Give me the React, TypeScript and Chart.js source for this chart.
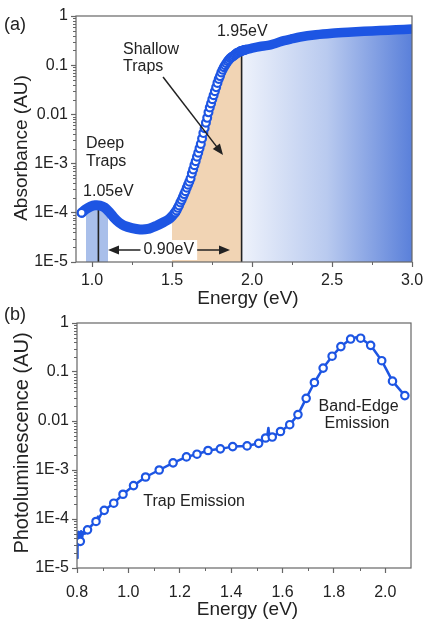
import React, { useEffect, useRef } from 'react';
import { Chart, registerables } from 'chart.js';

Chart.register(...registerables);

const FONT = '"Liberation Sans", Arial, Helvetica, sans-serif';
const INK = '#222222';
const FRAME = '#666666';
const BLUE = '#1d55e3';
const Y_MIN = 1e-5;
const Y_MAX = 1;

// ---------- Panel (a): absorbance ----------
const absLowEnergy = [0.935, 0.96, 0.99, 1.02, 1.05, 1.08, 1.11, 1.14, 1.17, 1.2, 1.25, 1.3, 1.35, 1.4, 1.45, 1.48, 1.5, 1.52];
const absLowValue = [1.0e-4, 1.17e-4, 1.33e-4, 1.42e-4, 1.4e-4, 1.27e-4, 1.02e-4, 7.8e-5, 6.3e-5, 5.5e-5, 4.9e-5, 4.6e-5, 4.7e-5, 5.4e-5, 6.5e-5, 7.4e-5, 8.5e-5, 1.02e-4];

const absEdgeEnergy = [1.52, 1.528, 1.536, 1.544, 1.552, 1.56, 1.568, 1.576, 1.584, 1.592, 1.6, 1.608, 1.616, 1.624, 1.632, 1.64, 1.648, 1.656, 1.664, 1.672, 1.68, 1.688, 1.696, 1.704, 1.712, 1.72, 1.728, 1.736, 1.744, 1.752, 1.76, 1.768, 1.776, 1.784, 1.792, 1.8, 1.808, 1.816, 1.824, 1.832, 1.84, 1.848, 1.856, 1.864, 1.872, 1.88, 1.888, 1.896, 1.904, 1.912, 1.92, 1.928, 1.936, 1.944, 1.952, 1.96];
const absEdgeValue = [1.02e-4, 1.12e-4, 1.26e-4, 1.41e-4, 1.62e-4, 1.82e-4, 2.09e-4, 2.4e-4, 2.75e-4, 3.24e-4, 3.72e-4, 4.27e-4, 5.0e-4, 6.3e-4, 7.6e-4, 9.3e-4, 1.12e-3, 1.38e-3, 1.66e-3, 2.04e-3, 2.51e-3, 3.24e-3, 4.17e-3, 5.25e-3, 6.76e-3, 8.5e-3, 1.1e-2, 1.38e-2, 1.66e-2, 2.04e-2, 2.45e-2, 2.95e-2, 3.55e-2, 4.37e-2, 5.25e-2, 6.0e-2, 7.1e-2, 8.1e-2, 9.1e-2, 0.1, 0.11, 0.12, 0.129, 0.138, 0.145, 0.151, 0.158, 0.166, 0.174, 0.18, 0.186, 0.191, 0.195, 0.2, 0.204, 0.206];

const absHighEnergy = [1.93, 1.96, 2.0, 2.05, 2.1, 2.15, 2.2, 2.25, 2.3, 2.4, 2.5, 2.6, 2.7, 2.8, 2.9, 3.0];
const absHighValue = [0.195, 0.206, 0.222, 0.24, 0.252, 0.28, 0.315, 0.345, 0.375, 0.415, 0.445, 0.468, 0.488, 0.506, 0.524, 0.543];

const deepBandEnergy = [0.9625, 0.99, 1.02, 1.05, 1.08, 1.1];
const deepBandTop = [1.15e-4, 1.3e-4, 1.38e-4, 1.36e-4, 1.25e-4, 1.1e-4];
const deepLevelEnergy = 1.04;
const deepLevelTop = 1.42e-4;
const edgeLevelEnergy = 1.935;
const edgeLevelTop = 0.197;
const shallowStartEnergy = 1.5;

const topXMajor = [1.0, 1.5, 2.0, 2.5, 3.0];
const topXLabels = ['1.0', '1.5', '2.0', '2.5', '3.0'];
const topXMinor = [1.25, 1.75, 2.25, 2.75];

// ---------- Panel (b): photoluminescence ----------
const plTraceEnergy = [0.8, 0.801, 0.803, 0.805, 0.807, 0.809, 0.811, 0.813, 0.816, 0.82, 0.824, 0.83, 0.841, 0.855, 0.866, 0.874, 0.882, 0.886, 0.894, 0.906, 0.943, 0.979, 1.02, 1.067, 1.12, 1.174, 1.226, 1.267, 1.31, 1.358, 1.406, 1.462, 1.507, 1.522, 1.534, 1.54, 1.545, 1.549, 1.56, 1.592, 1.628, 1.66, 1.692, 1.724, 1.758, 1.793, 1.827, 1.865, 1.885, 1.904, 1.943, 1.986, 2.028, 2.076];
const plTraceValue = [1.6e-5, 4.2e-5, 2.6e-5, 5.4e-5, 3.0e-5, 5.0e-5, 3.4e-5, 3.5e-5, 5.6e-5, 4.2e-5, 5.4e-5, 5.0e-5, 6.0e-5, 7.2e-5, 8.2e-5, 8.9e-5, 1.12e-4, 1.05e-4, 1.25e-4, 1.5e-4, 2.1e-4, 3.2e-4, 4.8e-4, 7.2e-4, 1.0e-3, 1.4e-3, 1.85e-3, 2.1e-3, 2.5e-3, 2.7e-3, 3.0e-3, 3.1e-3, 3.5e-3, 3.9e-3, 4.5e-3, 4.8e-3, 7.2e-3, 4.8e-3, 4.7e-3, 6.1e-3, 8.4e-3, 1.35e-2, 2.9e-2, 6.1e-2, 0.12, 0.21, 0.33, 0.47, 0.51, 0.49, 0.35, 0.17, 0.065, 0.033];

const plMarkerEnergy = [0.813, 0.841, 0.874, 0.906, 0.943, 0.979, 1.02, 1.067, 1.12, 1.174, 1.226, 1.267, 1.31, 1.358, 1.406, 1.462, 1.507, 1.534, 1.56, 1.592, 1.628, 1.66, 1.692, 1.724, 1.758, 1.793, 1.827, 1.865, 1.904, 1.943, 1.986, 2.028, 2.076];
const plMarkerValue = [3.5e-5, 6.0e-5, 8.9e-5, 1.5e-4, 2.1e-4, 3.2e-4, 4.8e-4, 7.2e-4, 1.0e-3, 1.4e-3, 1.85e-3, 2.1e-3, 2.5e-3, 2.7e-3, 3.0e-3, 3.1e-3, 3.5e-3, 4.5e-3, 4.7e-3, 6.1e-3, 8.4e-3, 1.35e-2, 2.9e-2, 6.1e-2, 0.12, 0.21, 0.33, 0.47, 0.49, 0.35, 0.17, 0.065, 0.033];

const bottomXMajor = [0.8, 1.0, 1.2, 1.4, 1.6, 1.8, 2.0];
const bottomXLabels = ['0.8', '1.0', '1.2', '1.4', '1.6', '1.8', '2.0'];
const bottomXMinor = [0.9, 1.1, 1.3, 1.5, 1.7, 1.9];

// ---------- shared y axis ----------
const yMajor = [1e-5, 1e-4, 1e-3, 0.01, 0.1, 1];
const yLabels = ['1E-5', '1E-4', '1E-3', '0.01', '0.1', '1'];
const yMinor: number[] = [];
for (const d of [1e-5, 1e-4, 1e-3, 1e-2, 1e-1]) for (const m of [2, 3, 4, 5, 6, 7, 8, 9]) yMinor.push(m * d);

type Pt = { x: number; y: number };
const mk = (xs: number[], ys: number[]): Pt[] => xs.map((x, i) => ({ x, y: ys[i] }));

type Txt = { text: string; x: number; y: number; align?: CanvasTextAlign; bg?: boolean };
type Arrow = { x1: number; y1: number; x2: number; y2: number; head1?: boolean; head2?: boolean };
type Title = { text: string; cx: number; cy: number; size: number; rot?: boolean };

function arrowHead(ctx: CanvasRenderingContext2D, fx: number, fy: number, tx: number, ty: number, len = 11, half = 4.5) {
  const dx = tx - fx, dy = ty - fy;
  const L = Math.hypot(dx, dy) || 1;
  const ux = dx / L, uy = dy / L;
  const bx = tx - ux * len, by = ty - uy * len;
  ctx.beginPath();
  ctx.moveTo(tx, ty);
  ctx.lineTo(bx - uy * half, by + ux * half);
  ctx.lineTo(bx + uy * half, by - ux * half);
  ctx.closePath();
  ctx.fill();
}

function decorPlugin(cfg: { texts: Txt[]; arrows: Arrow[]; titles: Title[]; panel: { text: string; x: number; y: number }; xMinor: number[] }) {
  return {
    id: 'decor',
    afterDatasetsDraw(chart: any) {
      const { ctx, scales } = chart;
      const xs = scales.x, ys = scales.y;
      ctx.save();
      ctx.strokeStyle = INK;
      ctx.fillStyle = INK;
      ctx.lineWidth = 1.5;
      for (const a of cfg.arrows) {
        const x1 = xs.getPixelForValue(a.x1), y1 = ys.getPixelForValue(a.y1);
        const x2 = xs.getPixelForValue(a.x2), y2 = ys.getPixelForValue(a.y2);
        const L = Math.hypot(x2 - x1, y2 - y1);
        const ux = (x2 - x1) / L, uy = (y2 - y1) / L;
        const sx = a.head1 ? x1 + ux * 8 : x1, sy = a.head1 ? y1 + uy * 8 : y1;
        const ex = a.head2 ? x2 - ux * 8 : x2, ey = a.head2 ? y2 - uy * 8 : y2;
        ctx.beginPath();
        ctx.moveTo(sx, sy);
        ctx.lineTo(ex, ey);
        ctx.stroke();
        if (a.head2) arrowHead(ctx, x1, y1, x2, y2);
        if (a.head1) arrowHead(ctx, x2, y2, x1, y1);
      }
      ctx.font = `16px ${FONT}`;
      ctx.textBaseline = 'middle';
      for (const t of cfg.texts) {
        const px = xs.getPixelForValue(t.x), py = ys.getPixelForValue(t.y);
        const w = ctx.measureText(t.text).width;
        const align = t.align || 'left';
        const left = align === 'center' ? px - w / 2 : align === 'right' ? px - w : px;
        if (t.bg) {
          ctx.fillStyle = '#ffffff';
          ctx.fillRect(left - 3, py - 10, w + 6, 20);
        }
        ctx.fillStyle = INK;
        ctx.textAlign = 'left';
        ctx.fillText(t.text, left, py);
      }
      ctx.restore();
    },
    afterDraw(chart: any) {
      const { ctx, chartArea: a, scales } = chart;
      const xs = scales.x, ys = scales.y;
      ctx.save();
      ctx.strokeStyle = FRAME;
      ctx.lineWidth = 1.2;
      ctx.strokeRect(a.left, a.top, a.right - a.left, a.bottom - a.top);
      ctx.beginPath();
      for (const v of yMinor) {
        const py = Math.round(ys.getPixelForValue(v)) + 0.5;
        ctx.moveTo(a.left - 3, py);
        ctx.lineTo(a.left, py);
      }
      for (const v of cfg.xMinor) {
        const px = Math.round(xs.getPixelForValue(v)) + 0.5;
        ctx.moveTo(px, a.bottom);
        ctx.lineTo(px, a.bottom + 3);
      }
      ctx.lineWidth = 1;
      ctx.stroke();
      ctx.fillStyle = INK;
      ctx.textAlign = 'center';
      ctx.textBaseline = 'middle';
      for (const t of cfg.titles) {
        ctx.font = `${t.size}px ${FONT}`;
        if (t.rot) {
          ctx.save();
          ctx.translate(t.cx, t.cy);
          ctx.rotate(-Math.PI / 2);
          ctx.fillText(t.text, 0, 0);
          ctx.restore();
        } else {
          ctx.fillText(t.text, t.cx, t.cy);
        }
      }
      ctx.font = `18px ${FONT}`;
      ctx.textAlign = 'left';
      ctx.fillText(cfg.panel.text, cfg.panel.x, cfg.panel.y);
      ctx.restore();
    },
  };
}

function xAxis(min: number, max: number, major: number[], labels: string[], height: number, pad: number) {
  return {
    type: 'linear',
    min,
    max,
    afterBuildTicks: (s: any) => {
      s.ticks = major.map((value) => ({ value }));
    },
    afterFit: (s: any) => {
      s.height = height;
      s.paddingLeft = 0;
      s.paddingRight = 0;
    },
    ticks: {
      autoSkip: false,
      maxRotation: 0,
      minRotation: 0,
      padding: pad,
      color: INK,
      font: { family: FONT, size: 16 },
      callback: (_v: any, i: number) => labels[i],
    },
    grid: { display: true, drawOnChartArea: false, drawTicks: true, tickLength: 5, tickColor: FRAME, tickWidth: 1.2, color: FRAME },
    border: { display: false },
  };
}

function yAxis(width: number) {
  return {
    type: 'logarithmic',
    min: Y_MIN,
    max: Y_MAX,
    afterBuildTicks: (s: any) => {
      s.ticks = yMajor.map((value) => ({ value, major: true }));
    },
    afterFit: (s: any) => {
      s.width = width;
      s.paddingTop = 0;
      s.paddingBottom = 0;
    },
    ticks: {
      autoSkip: false,
      padding: 3,
      color: INK,
      font: { family: FONT, size: 16 },
      callback: (_v: any, i: number) => yLabels[i],
    },
    grid: { display: true, drawOnChartArea: false, drawTicks: true, tickLength: 5, tickColor: FRAME, tickWidth: 1.2, color: FRAME },
    border: { display: false },
  };
}

function topConfig(): any {
  const low = mk(absLowEnergy, absLowValue);
  const edge = mk(absEdgeEnergy, absEdgeValue);
  const high = mk(absHighEnergy, absHighValue);
  const tanFill = [...low.filter((p) => p.x >= shallowStartEnergy), ...edge.filter((p) => p.x <= edgeLevelEnergy + 0.002)];
  const blueFill = high.filter((p) => p.x >= edgeLevelEnergy - 0.006);
  const deepFill = mk(deepBandEnergy, deepBandTop);

  const gradient = (c: any) => {
    const ch = c.chart;
    const a = ch.chartArea;
    const xs = ch.scales && ch.scales.x;
    if (!a || !xs) return '#b4c6ee';
    const x0 = xs.getPixelForValue(edgeLevelEnergy);
    const g = ch.ctx.createLinearGradient(x0, 0, a.right, 0);
    g.addColorStop(0, '#eef2fb');
    g.addColorStop(0.5, '#b9caef');
    g.addColorStop(1, '#5a80da');
    return g;
  };

  const fillBase = { type: 'line', showLine: true, fill: 'start', borderWidth: 0, borderColor: 'rgba(0,0,0,0)', pointRadius: 0, tension: 0 };
  const vline = { type: 'line', showLine: true, fill: false, borderWidth: 1.6, borderColor: INK, pointRadius: 0, order: 5 };

  return {
    type: 'line',
    data: {
      datasets: [
        { ...fillBase, data: tanFill, backgroundColor: '#f1d4b4', order: 10 },
        { ...fillBase, data: blueFill, backgroundColor: gradient, order: 9 },
        { ...fillBase, data: deepFill, backgroundColor: '#a9bfea', order: 8 },
        { ...vline, data: [{ x: deepLevelEnergy, y: Y_MIN }, { x: deepLevelEnergy, y: deepLevelTop }] },
        { ...vline, data: [{ x: edgeLevelEnergy, y: Y_MIN }, { x: edgeLevelEnergy, y: edgeLevelTop }] },
        { type: 'line', data: low, showLine: true, fill: false, borderColor: BLUE, borderWidth: 10, borderCapStyle: 'round', borderJoinStyle: 'round', pointRadius: 0, tension: 0.3, clip: 0, order: 3 },
        { type: 'line', data: high, showLine: true, fill: false, borderColor: BLUE, borderWidth: 9.5, borderCapStyle: 'round', borderJoinStyle: 'round', pointRadius: 0, tension: 0.3, clip: 0, order: 0.5 },
        { type: 'line', data: edge, showLine: false, fill: false, pointRadius: 3.9, pointBorderWidth: 2.2, pointBorderColor: BLUE, pointBackgroundColor: '#ffffff', order: 1 },
        { type: 'line', data: [low[0]], showLine: false, fill: false, pointRadius: 3.9, pointBorderWidth: 2.2, pointBorderColor: BLUE, pointBackgroundColor: '#ffffff', order: 0 },
      ],
    },
    options: {
      animation: false,
      responsive: false,
      events: [],
      layout: { autoPadding: false, padding: { left: 0, top: 16, right: 12, bottom: 0 } },
      plugins: { legend: { display: false }, tooltip: { enabled: false } },
      scales: { x: xAxis(0.9, 3.0, topXMajor, topXLabels, 48, 4), y: yAxis(76) },
    },
    plugins: [
      decorPlugin({
        texts: [
          { text: 'Shallow', x: 1.194, y: 0.204 },
          { text: 'Traps', x: 1.194, y: 0.092 },
          { text: 'Deep', x: 0.9625, y: 2.5e-3 },
          { text: 'Traps', x: 0.9625, y: 1.12e-3 },
          { text: '1.05eV', x: 0.944, y: 2.75e-4 },
          { text: '1.95eV', x: 1.781, y: 0.473 },
          { text: '0.90eV', x: 1.48, y: 1.75e-5, align: 'center', bg: true },
        ],
        arrows: [
          { x1: 1.1, y1: 1.75e-5, x2: 1.8625, y2: 1.75e-5, head1: true, head2: true },
          { x1: 1.444, y1: 0.0575, x2: 1.819, y2: 1.5e-3, head2: true },
        ],
        titles: [
          { text: 'Absorbance (AU)', cx: 22, cy: 148, size: 19, rot: true },
          { text: 'Energy (eV)', cx: 248, cy: 299, size: 19 },
        ],
        panel: { text: '(a)', x: 4, y: 25 },
        xMinor: topXMinor,
      }),
    ],
  };
}

function bottomConfig(): any {
  return {
    type: 'line',
    data: {
      datasets: [
        { type: 'line', data: mk(plTraceEnergy, plTraceValue), showLine: true, fill: false, borderColor: BLUE, borderWidth: 2.5, borderJoinStyle: 'round', pointRadius: 0, tension: 0, order: 2 },
        { type: 'line', data: mk(plMarkerEnergy, plMarkerValue), showLine: false, fill: false, pointRadius: 3.7, pointBorderWidth: 2.2, pointBorderColor: BLUE, pointBackgroundColor: '#ffffff', order: 1 },
      ],
    },
    options: {
      animation: false,
      responsive: false,
      events: [],
      layout: { autoPadding: false, padding: { left: 0, top: 23, right: 13, bottom: 0 } },
      plugins: { legend: { display: false }, tooltip: { enabled: false } },
      scales: { x: xAxis(0.8, 2.1, bottomXMajor, bottomXLabels, 51, 10), y: yAxis(77) },
    },
    plugins: [
      decorPlugin({
        texts: [
          { text: 'Trap Emission', x: 1.058, y: 2.3e-4 },
          { text: 'Band-Edge', x: 1.896, y: 0.0198, align: 'center' },
          { text: 'Emission', x: 1.89, y: 8.8e-3, align: 'center' },
        ],
        arrows: [],
        titles: [
          { text: 'Photoluminescence (AU)', cx: 22, cy: 143, size: 20, rot: true },
          { text: 'Energy (eV)', cx: 247.5, cy: 310, size: 19 },
        ],
        panel: { text: '(b)', x: 4, y: 15 },
        xMinor: bottomXMinor,
      }),
    ],
  };
}

function ChartCanvas({ make, top, height }: { make: () => any; top: number; height: number }) {
  const ref = useRef<HTMLCanvasElement | null>(null);
  useEffect(() => {
    if (!ref.current) return;
    const chart = new Chart(ref.current, make());
    return () => chart.destroy();
  }, [make]);
  return (
    <canvas
      ref={ref}
      width={424}
      height={height}
      style={{ position: 'absolute', left: 0, top, width: 424, height, display: 'block' }}
    />
  );
}

export default function App() {
  return (
    <div style={{ position: 'absolute', left: 0, top: 0, width: 424, height: 619, background: '#ffffff', overflow: 'hidden' }}>
      <ChartCanvas make={topConfig} top={0} height={310} />
      <ChartCanvas make={bottomConfig} top={300} height={319} />
    </div>
  );
}
